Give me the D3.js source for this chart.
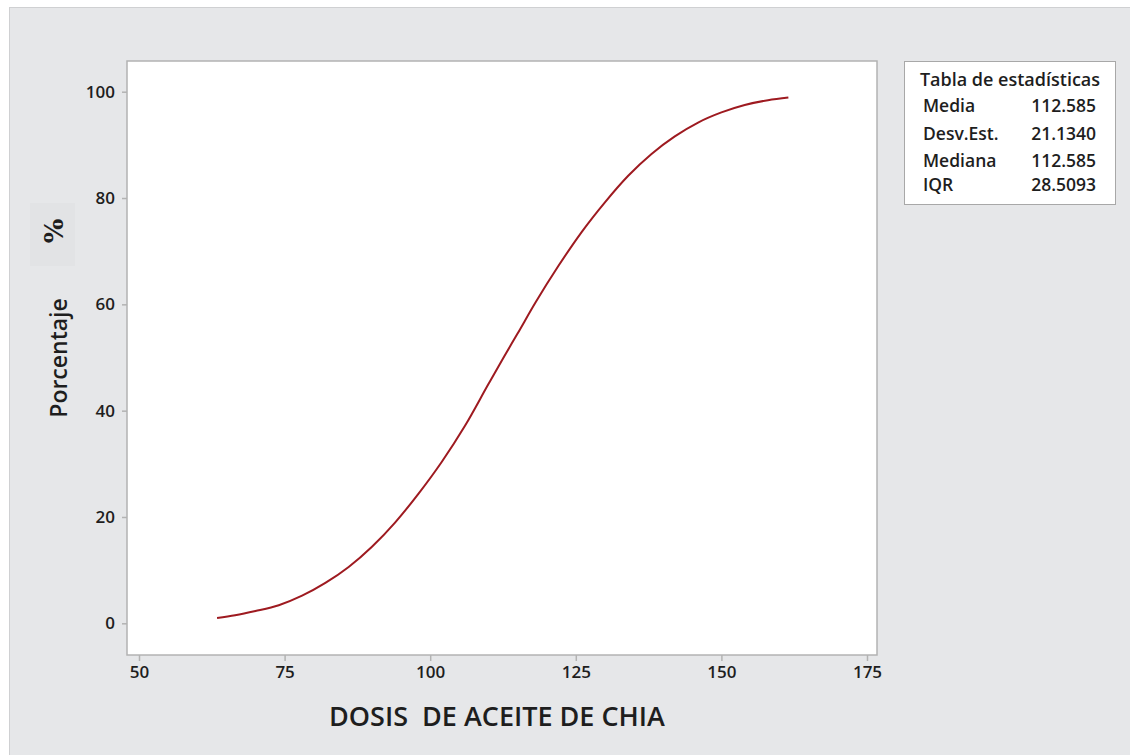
<!DOCTYPE html>
<html>
<head>
<meta charset="utf-8">
<script src="https://d3js.org/d3.v7.min.js"></script>
<style>
  body { margin:0; background:#ffffff; }
  svg text { font-family:"Open Sans", "Noto Sans", sans-serif; fill:#1e1e1e; font-weight:600; }
</style>
</head>
<body>
<svg id="chart" width="1130" height="755"></svg>
<script>
// values (dose, cumulative percent)
var dosis      = [63.4, 66.5, 70, 74, 78, 82, 86, 90, 94, 98, 102, 106, 110, 112.6, 115, 118, 122, 126, 130, 134, 138, 142, 146, 150, 154, 158, 161.5];
var porcentaje = [1.0, 1.5, 2.3, 3.4, 5.2, 7.6, 10.6, 14.4, 19.0, 24.4, 30.4, 37.2, 45.0, 50.0, 54.5, 60.2, 67.2, 73.6, 79.2, 84.2, 88.3, 91.6, 94.2, 96.1, 97.5, 98.4, 98.9];
var xTicks = [50, 75, 100, 125, 150, 175];
var yTicks = [0, 20, 40, 60, 80, 100];
var statLabels = ["Media", "Desv.Est.", "Mediana", "IQR"];
var statValues = ["112.585", "21.1340", "112.585", "28.5093"];

var svg = d3.select("#chart");

// gray panel
svg.append("rect").attr("x", 9.5).attr("y", 7.5).attr("width", 1130).attr("height", 760)
  .attr("fill", "#e6e7e9").attr("stroke", "#cfd0d2");

var x = d3.scaleLinear().domain([50, 175]).range([139, 867]);
var y = d3.scaleLinear().domain([0, 100]).range([623.3, 91.7]);

// plot area
svg.append("rect").attr("x", 127).attr("y", 61).attr("width", 750).attr("height", 594)
  .attr("fill", "#ffffff").attr("stroke", "#b3b3b3").attr("stroke-width", 1.5);

var xAxis = svg.append("g").attr("transform", "translate(0,655)")
  .call(d3.axisBottom(x).tickValues(xTicks).tickSize(6).tickPadding(5));
var yAxis = svg.append("g").attr("transform", "translate(127,0)")
  .call(d3.axisLeft(y).tickValues(yTicks).tickSize(5).tickPadding(7));
[xAxis, yAxis].forEach(function(g) {
  g.select(".domain").remove();
  g.selectAll(".tick line").attr("stroke", "#b3b3b3").attr("stroke-width", 1.5);
  g.selectAll(".tick text").style("font-size", "17px").attr("fill", "#1e1e1e")
    .style("font-family", "'Open Sans', sans-serif").style("font-weight", "600");
});

// curve
var pts = dosis.map(function(d, i) { return [d, porcentaje[i]]; });
svg.append("path").datum(pts)
  .attr("fill", "none").attr("stroke", "#9e1a20").attr("stroke-width", 2)
  .attr("d", d3.line().x(function(d) { return x(d[0]); }).y(function(d) { return y(d[1]); })
    .curve(d3.curveMonotoneX));

// axis titles
svg.append("text").attr("x", 497).attr("y", 726).attr("text-anchor", "middle")
  .style("font-size", "27px").attr("xml:space", "preserve").text("DOSIS  DE ACEITE DE CHIA");
svg.append("text").attr("transform", "translate(67,358) rotate(-90)").attr("text-anchor", "middle")
  .style("font-size", "23px").text("Porcentaje");
svg.append("rect").attr("x", 30).attr("y", 203).attr("width", 45).attr("height", 63).attr("fill", "#e2e3e5");
svg.append("text").attr("transform", "translate(63,231) rotate(-90)").attr("text-anchor", "middle")
  .style("font-family", "'DejaVu Serif', serif").style("font-weight", "bold").style("font-size", "26px").text("%");

// stats table
svg.append("rect").attr("x", 904.5).attr("y", 61.5).attr("width", 211).attr("height", 143)
  .attr("fill", "#ffffff").attr("stroke", "#a8a8a8");
svg.append("text").attr("x", 1010).attr("y", 86).attr("text-anchor", "middle")
  .style("font-size", "18px").text("Tabla de estadísticas");
var rowY = [111.5, 139.5, 166.5, 190.5];
statLabels.forEach(function(s, i) {
  svg.append("text").attr("x", 923).attr("y", rowY[i]).style("font-size", "17.5px").text(s);
  svg.append("text").attr("x", 1096).attr("y", rowY[i]).attr("text-anchor", "end")
    .style("font-size", "17.5px").text(statValues[i]);
});
</script>
</body>
</html>
